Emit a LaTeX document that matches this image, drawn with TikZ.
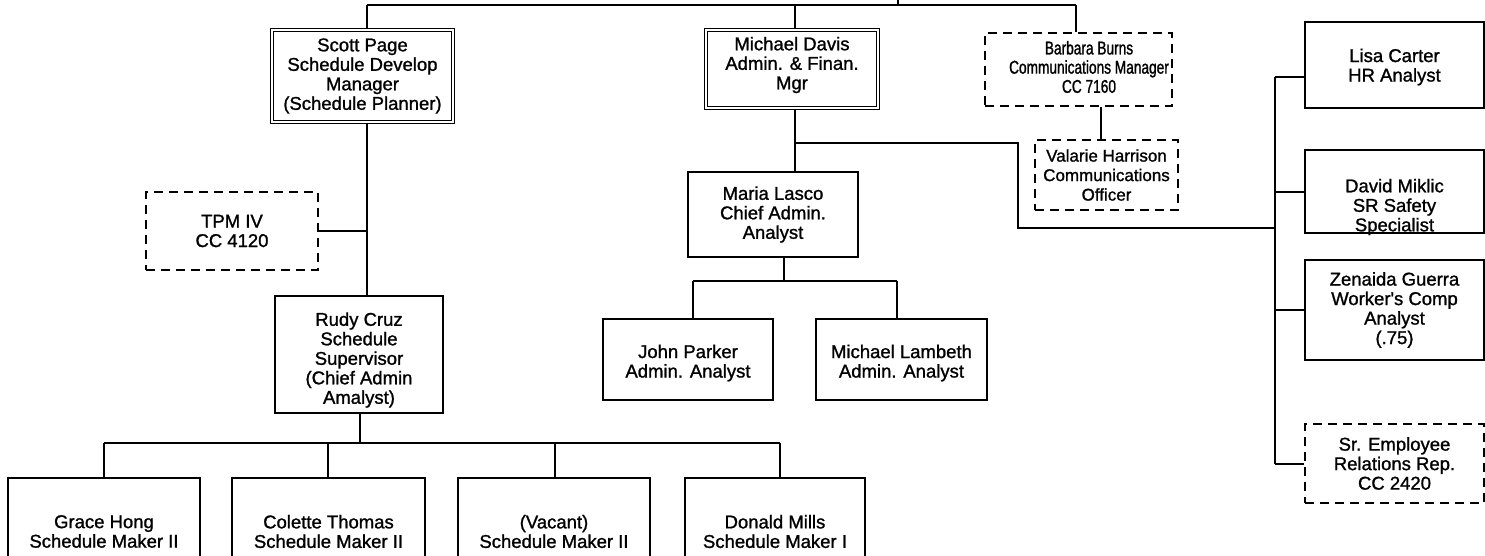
\documentclass[tikz,border=0pt]{standalone}
\usepackage{fontspec}
\setmainfont{Liberation Sans}[FakeBold=1.2]
\newfontfamily\txtfont{Liberation Sans}[FakeBold=1.2]
\newfontfamily\condfont{Liberation Sans}[FakeBold=1.2, FakeStretch=0.74]
\begin{document}
\begin{tikzpicture}[x=1pt,y=-1pt,
  every node/.style={inner sep=0pt, align=center, font=\txtfont\fontsize{18.5}{19.5}\selectfont},
  midtxt/.style={font=\txtfont\fontsize{17}{19.5}\selectfont},
  condtxt/.style={font=\condfont\fontsize{18.5}{19.2}\selectfont},
  line/.style={line width=2pt},
  solidbox/.style={draw, line width=2pt},
  dblbox/.style={draw, double, double distance=2.2pt, line width=1.3pt},
  dashbox/.style={draw, line width=2pt, dash pattern=on 9pt off 6pt}]
\useasboundingbox (0,0) rectangle (1485,555);
\clip (0,0) rectangle (1485,555);
% boxes
\node[dblbox, minimum width=181pt, minimum height=92pt] (scott) at (362.5,76) {Scott Page\\Schedule Develop\\Manager\\(Schedule Planner)};
\node[dblbox, minimum width=172pt, minimum height=78pt] (davis) at (792,69) {};
\node at (792,65) {Michael Davis\\Admin. \& Finan.\\Mgr};
\node[dashbox, minimum width=187pt, minimum height=73pt] (barbara) at (1078.5,69.5) {};
\node[condtxt] at (1089,67) {Barbara Burns\\Communications Manager\\CC 7160};
\node[solidbox, minimum width=179pt, minimum height=86pt] (lisa) at (1394.5,65) {};
\node at (1394.5,67) {Lisa Carter\\HR Analyst};
\node[dashbox, minimum width=143pt, minimum height=70pt, midtxt] (valarie) at (1106.5,175) {Valarie Harrison\\Communications\\Officer};
\node[solidbox, minimum width=179pt, minimum height=83pt] (david) at (1394.5,191.5) {};
\node at (1394.5,207) {David Miklic\\SR Safety\\Specialist};
\node[dashbox, minimum width=172pt, minimum height=78pt] (tpm) at (232,231) {TPM IV\\CC 4120};
\node[solidbox, minimum width=170pt, minimum height=85pt] (maria) at (773,214.5) {Maria Lasco\\Chief Admin.\\Analyst};
\node[solidbox, minimum width=179pt, minimum height=100pt] (zenaida) at (1394.5,310) {Zenaida Guerra\\Worker's Comp\\Analyst\\(.75)};
\node[solidbox, minimum width=170pt, minimum height=81pt] (john) at (688,359.5) {};
\node at (688,363) {John Parker\\Admin. Analyst};
\node[solidbox, minimum width=171pt, minimum height=81pt] (lambeth) at (901.5,359.5) {};
\node at (901.5,363) {Michael Lambeth\\Admin. Analyst};
\node[solidbox, minimum width=168pt, minimum height=117pt] (rudy) at (359,354.5) {};
\node at (359,360) {Rudy Cruz\\Schedule\\Supervisor\\(Chief Admin\\Amalyst)};
\node[dashbox, minimum width=179pt, minimum height=79pt] (sr) at (1394.5,463.5) {Sr. Employee\\Relations Rep.\\CC 2420};
\node[solidbox, minimum width=192pt, minimum height=107pt] (grace) at (104,531.5) {Grace Hong\\Schedule Maker II};
\node[solidbox, minimum width=193pt, minimum height=107pt] (colette) at (328.5,531.5) {Colette Thomas\\Schedule Maker II};
\node[solidbox, minimum width=192pt, minimum height=107pt] (vacant) at (554,531.5) {(Vacant)\\Schedule Maker II};
\node[solidbox, minimum width=180pt, minimum height=107pt] (donald) at (775,531.5) {Donald Mills\\Schedule Maker I};
% coordinates
\coordinate (t0) at (898,0);
\coordinate (t1) at (367,5);
\coordinate (t2) at (795,5);
\coordinate (t3) at (1076,5);
\coordinate (t4) at (898,5);
\coordinate (d1) at (795,143);
\coordinate (d2) at (1018,143);
\coordinate (d3) at (1018,228);
\coordinate (v1) at (1101,100);
\coordinate (r1) at (1275,77);
\coordinate (r2) at (1275,228);
\coordinate (m1) at (784,281);
\coordinate (m2) at (693,281);
\coordinate (m3) at (897,281);
\coordinate (s1) at (360,443);
\coordinate (b1) at (104,443);
\coordinate (b2) at (328,443);
\coordinate (b3) at (555,443);
\coordinate (b4) at (780,443);
% connectors
\draw[line] (t1) -- (t3);
\draw[line] (t0) -- (t4);
\draw[line] (t1) -- (t1 |- scott.north);
\draw[line] (t2) -- (t2 |- davis.north);
\draw[line] (t3) -- (t3 |- barbara.north);
\draw[line] (t1 |- scott.south) -- (t1 |- rudy.north);
\draw[line] (tpm.east) -- (tpm.east -| t1);
\draw[line] (t2 |- davis.south) -- (t2 |- maria.north);
\draw[line] (d1) -- (d2) -- (d3) -- (r2);
\draw[line] (v1 |- barbara.south) -- (v1 |- valarie.north);
\draw[line] (r1) -- (r1 |- sr.west);
\draw[line] (r1) -- (r1 -| lisa.west);
\draw[line] (r1 |- david.west) -- (david.west);
\draw[line] (r1 |- zenaida.west) -- (zenaida.west);
\draw[line] (r1 |- sr.west) -- (sr.west);
\draw[line] (m1 |- maria.south) -- (m1);
\draw[line] (m2) -- (m3);
\draw[line] (m2) -- (m2 |- john.north);
\draw[line] (m3) -- (m3 |- lambeth.north);
\draw[line] (s1 |- rudy.south) -- (s1);
\draw[line] (b1) -- (b4);
\draw[line] (b1) -- (b1 |- grace.north);
\draw[line] (b2) -- (b2 |- colette.north);
\draw[line] (b3) -- (b3 |- vacant.north);
\draw[line] (b4) -- (b4 |- donald.north);
\end{tikzpicture}
\end{document}
